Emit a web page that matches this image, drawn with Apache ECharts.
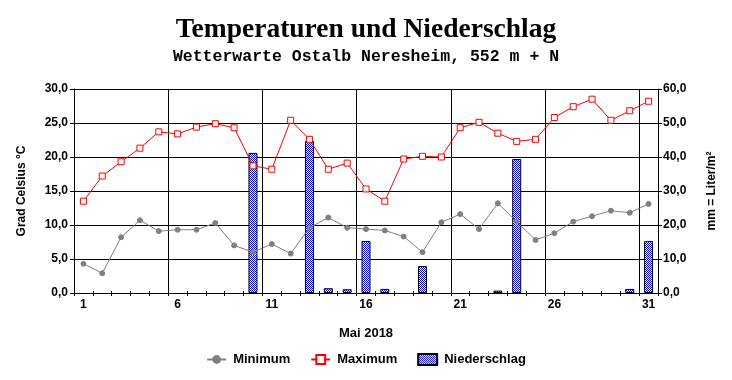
<!DOCTYPE html>
<html><head><meta charset="utf-8">
<script src="https://cdn.jsdelivr.net/npm/echarts@6/dist/echarts.min.js"></script>
<style>html,body{margin:0;padding:0;background:#fff}#c{width:732px;height:380px}</style>
</head><body><div id="c"></div>
<script>
const days = ['1','2','3','4','5','6','7','8','9','10','11','12','13','14','15','16','17','18','19','20','21','22','23','24','25','26','27','28','29','30','31'];
const tMin = [4.3,2.9,8.2,10.7,9.1,9.3,9.3,10.3,7.0,6.0,7.2,5.8,9.6,11.1,9.6,9.4,9.2,8.3,6.0,10.4,11.6,9.4,13.2,10.5,7.8,8.8,10.5,11.3,12.1,11.8,13.1];
const tMax = [13.5,17.2,19.3,21.3,23.7,23.4,24.4,24.9,24.3,18.7,18.2,25.4,22.6,18.2,19.1,15.3,13.5,19.7,20.1,20.0,24.3,25.1,23.5,22.3,22.6,25.8,27.4,28.5,25.4,26.8,28.2];
const precip = [0,0,0,0,0,0,0,0,0,41.2,0,0,44.7,1.4,1.1,15.3,1.2,0,7.9,0,0,0,0.7,39.4,0,0,0,0,0,1.2,15.3];
const tempTicks = {min:0,max:30,interval:5};
const precipTicks = {min:0,max:60,interval:10};

const pc = document.createElement('canvas');
pc.width = 2; pc.height = 2;
const g = pc.getContext('2d');
g.fillStyle = '#ffffff'; g.fillRect(0,0,2,2);
g.fillStyle = '#0000ff'; g.fillRect(0,0,1,1); g.fillRect(1,1,1,1);
const pattern = {image: pc, repeat: 'repeat'};

const fmt = v => v.toFixed(1).replace('.', ',');
const bold12 = {fontFamily:'Liberation Sans, Arial', fontWeight:'bold', fontSize:12, color:'#000'};
const bold13 = {fontFamily:'Liberation Sans, Arial', fontWeight:'bold', fontSize:13, color:'#000'};

const chart = echarts.init(document.getElementById('c'), null, {renderer:'canvas'});
chart.setOption({
  animation:false,
  backgroundColor:'#fff',
  title:[
    {text:'Temperaturen und Niederschlag', left:'center', top:11,
     textStyle:{fontFamily:'Liberation Serif, Times New Roman', fontWeight:'bold', fontSize:27.5, color:'#000'}},
    {text:'Wetterwarte Ostalb Neresheim, 552 m + N', left:'center', top:43,
     textStyle:{fontFamily:'Liberation Mono, Courier New', fontWeight:'bold', fontSize:16.5, color:'#000'}}
  ],
  grid:{left:74, right:74, top:89, bottom:87, containLabel:false},
  legend:{
    bottom:9, left:'center', itemGap:20, itemWidth:19, itemHeight:11,
    textStyle:{...bold13, padding:[0,0,0,2]},
    data:[
      {name:'Minimum'},
      {name:'Maximum'},
      {name:'Niederschlag', icon:'rect'}
    ]
  },
  xAxis:[
    {type:'category', data:days, boundaryGap:true,
     name:'Mai 2018', nameLocation:'middle', nameGap:34, nameTextStyle:bold13,
     axisLine:{lineStyle:{color:'#000', width:1}},
     axisTick:{show:true, interval:0, length:3, lineStyle:{color:'#000'}},
     axisLabel:{interval:4, margin:6, ...bold12},
     splitLine:{show:true, interval:4, lineStyle:{color:'#000', width:1}}},
    {type:'category', data:days, boundaryGap:true, position:'bottom',
     axisLine:{show:false},
     axisTick:{show:true, inside:true, interval:0, length:2, lineStyle:{color:'#000'}},
     axisLabel:{show:false}, splitLine:{show:false}}
  ],
  yAxis:[
    {type:'value', ...tempTicks, position:'left',
     name:'Grad Celsius °C', nameLocation:'middle', nameRotate:90, nameGap:46, nameTextStyle:bold12,
     axisLine:{show:true, lineStyle:{color:'#000'}},
     axisTick:{show:true, length:4, lineStyle:{color:'#000'}},
     axisLabel:{formatter:fmt, margin:6, ...bold12},
     splitLine:{show:true, lineStyle:{color:'#000', width:1}}},
    {type:'value', ...precipTicks, position:'right',
     name:'mm = Liter/m²', nameLocation:'middle', nameRotate:90, nameGap:48, nameTextStyle:bold12,
     axisLine:{show:true, lineStyle:{color:'#000'}},
     axisTick:{show:true, length:4, lineStyle:{color:'#000'}},
     axisLabel:{formatter:fmt, margin:5, ...bold12},
     splitLine:{show:false}}
  ],
  series:[
    {name:'Niederschlag', type:'bar', yAxisIndex:1, data:precip.map(v => v > 0 ? v : '-'), barWidth:9, z:2,
     itemStyle:{color:pattern, borderColor:'#000', borderWidth:1}},
    {name:'Minimum', type:'line', data:tMin, z:3, symbol:'circle', symbolSize:5,
     lineStyle:{color:'#808080', width:1}, itemStyle:{color:'#808080', borderColor:'#808080'}},
    {name:'Maximum', type:'line', data:tMax, z:4, symbol:'rect', symbolSize:6,
     lineStyle:{color:'#ff0000', width:1}, itemStyle:{color:'#fff', borderColor:'#ff0000', borderWidth:1}}
  ]
});
</script></body></html>
